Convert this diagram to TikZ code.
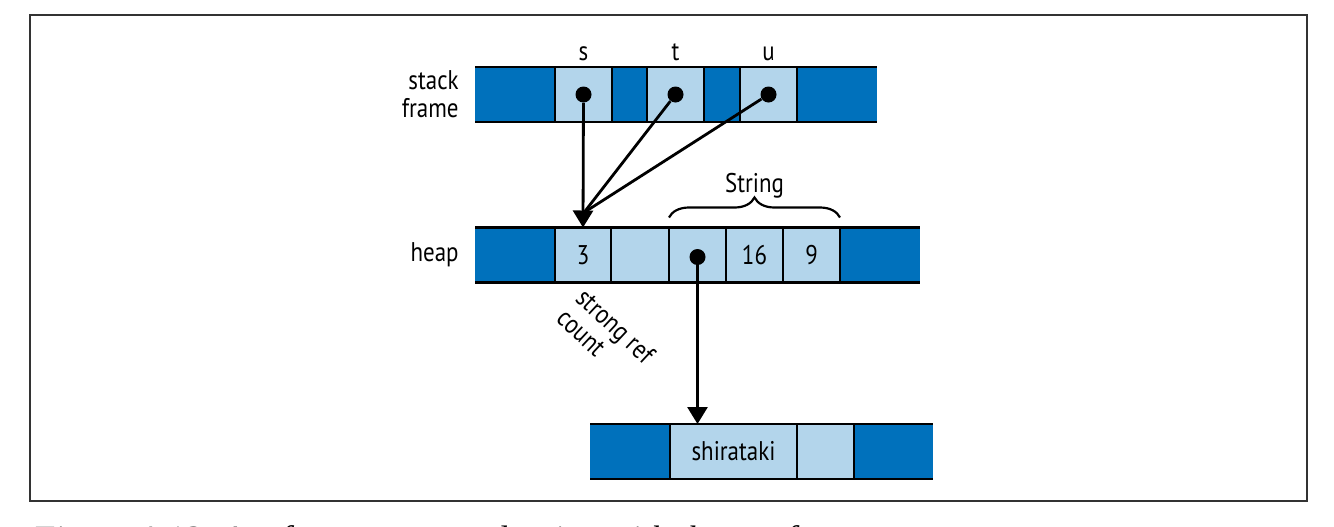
\documentclass[tikz,border=0pt]{standalone}
\usepackage{fontspec}
\setmainfont{PT Sans}[FakeStretch=0.85]
\newfontfamily\capfont{Liberation Serif}
\usetikzlibrary{arrows.meta,decorations.pathreplacing,calc}
\definecolor{darkcell}{RGB}{0,113,188}
\definecolor{lightcell}{RGB}{179,213,235}
\newlength\capw
\begin{document}
\settowidth\capw{\capfont\itshape\fontsize{10}{12}\selectfont Figure 4-12. A reference-counted string with three ref}%
\begin{tikzpicture}[x=0.5pt,y=-0.5pt,
  cellbox/.style={minimum height=27.5pt,inner sep=0pt,outer sep=0pt,font=\fontsize{13.5}{14}\selectfont},
  dk/.style={cellbox,fill=darkcell},
  lt/.style={cellbox,fill=lightcell},
  rowline/.style={line width=1.4pt},
  dot/.style={circle,fill=black,inner sep=0pt,minimum size=8pt},
  ptr/.style={line width=1.4pt},
  arr/.style={ptr,-{Triangle[width=10pt,length=8.5pt]}},
  lbl/.style={font=\fontsize{13.5}{14}\selectfont,inner sep=0pt}]
\useasboundingbox (0,0) rectangle (1334,526);
\fill[white] (0,0) rectangle (1334,526);
% frame
\draw[line width=0.9pt,draw=black!80] (30,15) rectangle (1307,501);
% stack row
\node[dk,minimum width=40pt] (s1) at (515,94.5) {};
\node[lt,minimum width=28.5pt] (sc) at (583.5,94.5) {};
\node[dk,minimum width=17.5pt] (s2) at (629.5,94.5) {};
\node[lt,minimum width=28.5pt] (tc) at (675.5,94.5) {};
\node[dk,minimum width=18pt] (s3) at (722,94.5) {};
\node[lt,minimum width=28.5pt] (uc) at (768.5,94.5) {};
\node[dk,minimum width=40pt] (s4) at (837,94.5) {};
\draw[rowline] (s1.north west) -- (s4.north east);
\draw[rowline] (s1.south west) -- (s4.south east);
\foreach \c in {s1,sc,s2,tc,s3,uc} \draw[rowline] (\c.north east) -- (\c.south east);
\node[lbl,anchor=base] (sl) at ($(sc.north)+(0,-7)$) {s};
\node[lbl,anchor=base] (tl) at ($(tc.north)+(0,-7)$) {t};
\node[lbl,anchor=base] (ul) at ($(uc.north)+(0,-7)$) {u};
\node[lbl,anchor=east,align=right] (sf) at (459,94) {stack\\frame};
% heap row
\node[dk,minimum width=40pt] (h1) at (515,255) {};
\node[lt,minimum width=28pt] (h3) at (583,255) {3};
\node[lt,minimum width=29pt] (h4) at (640,255) {};
\node[lt,minimum width=28.5pt] (hp) at (697.5,255) {};
\node[lt,minimum width=28.5pt] (h16) at (754.5,255) {16};
\node[lt,minimum width=28.5pt] (h9) at (811.5,255) {9};
\node[dk,minimum width=40pt] (h5) at (880,255) {};
\draw[rowline] (h1.north west) -- (h5.north east);
\draw[rowline] (h1.south west) -- (h5.south east);
\foreach \c in {h1,h3,h4,hp,h16,h9} \draw[rowline] (\c.north east) -- (\c.south east);
\node[lbl,anchor=east] (hl) at (459,255) {heap};
\draw[line width=1.1pt,decorate,decoration={brace,amplitude=10pt}]
  ($(hp.north west)+(0,-10)$) -- ($(h9.north east)+(0,-10)$);
\node[lbl,anchor=base] (strl) at ($(hp.north west)!0.5!(h9.north east)+(0,-35)$) {String};
\node[lbl,align=left,rotate=-43] (src) at (606,336) {strong ref\\count};
% bottom row
\node[dk,minimum width=40pt] (b1) at (630,451.5) {};
\node[lt,minimum width=63.5pt] (bs) at (733.5,451.5) {shirataki};
\node[lt,minimum width=28.5pt] (b2) at (825.5,451.5) {};
\node[dk,minimum width=39.5pt] (b3) at (893.5,451.5) {};
\draw[rowline] (b1.north west) -- (b3.north east);
\draw[rowline] (b1.south west) -- (b3.south east);
\foreach \c in {b1,bs,b2} \draw[rowline] (\c.north east) -- (\c.south east);
% pointers
\node[dot] (sd) at (sc.center) {};
\node[dot] (td) at (tc.center) {};
\node[dot] (ud) at (uc.center) {};
\node[dot] (hd) at ($(hp.center)+(0,2)$) {};
\coordinate (hb) at ($(h3.north)+(1,-15)$);
\draw[ptr] (td) -- (hb);
\draw[ptr] (ud) -- (hb);
\draw[arr] (sd) -- (h3.north);
\draw[arr] (hd) -- (hd |- bs.north);
% caption (cut off)
\pgfmathsetmacro\capsz{10*381.5/\capw}
\pgfmathsetmacro\capy{527+0.66*2*\capsz}
\begin{scope}
\clip (0,0) rectangle (1334,526);
\node[anchor=base west,inner sep=0pt,font=\capfont\itshape\fontsize{\capsz}{\capsz}\selectfont] (cap) at (32,\capy) {Figure 4-12. A reference-counted string with three references};
\end{scope}
\end{tikzpicture}
\end{document}
